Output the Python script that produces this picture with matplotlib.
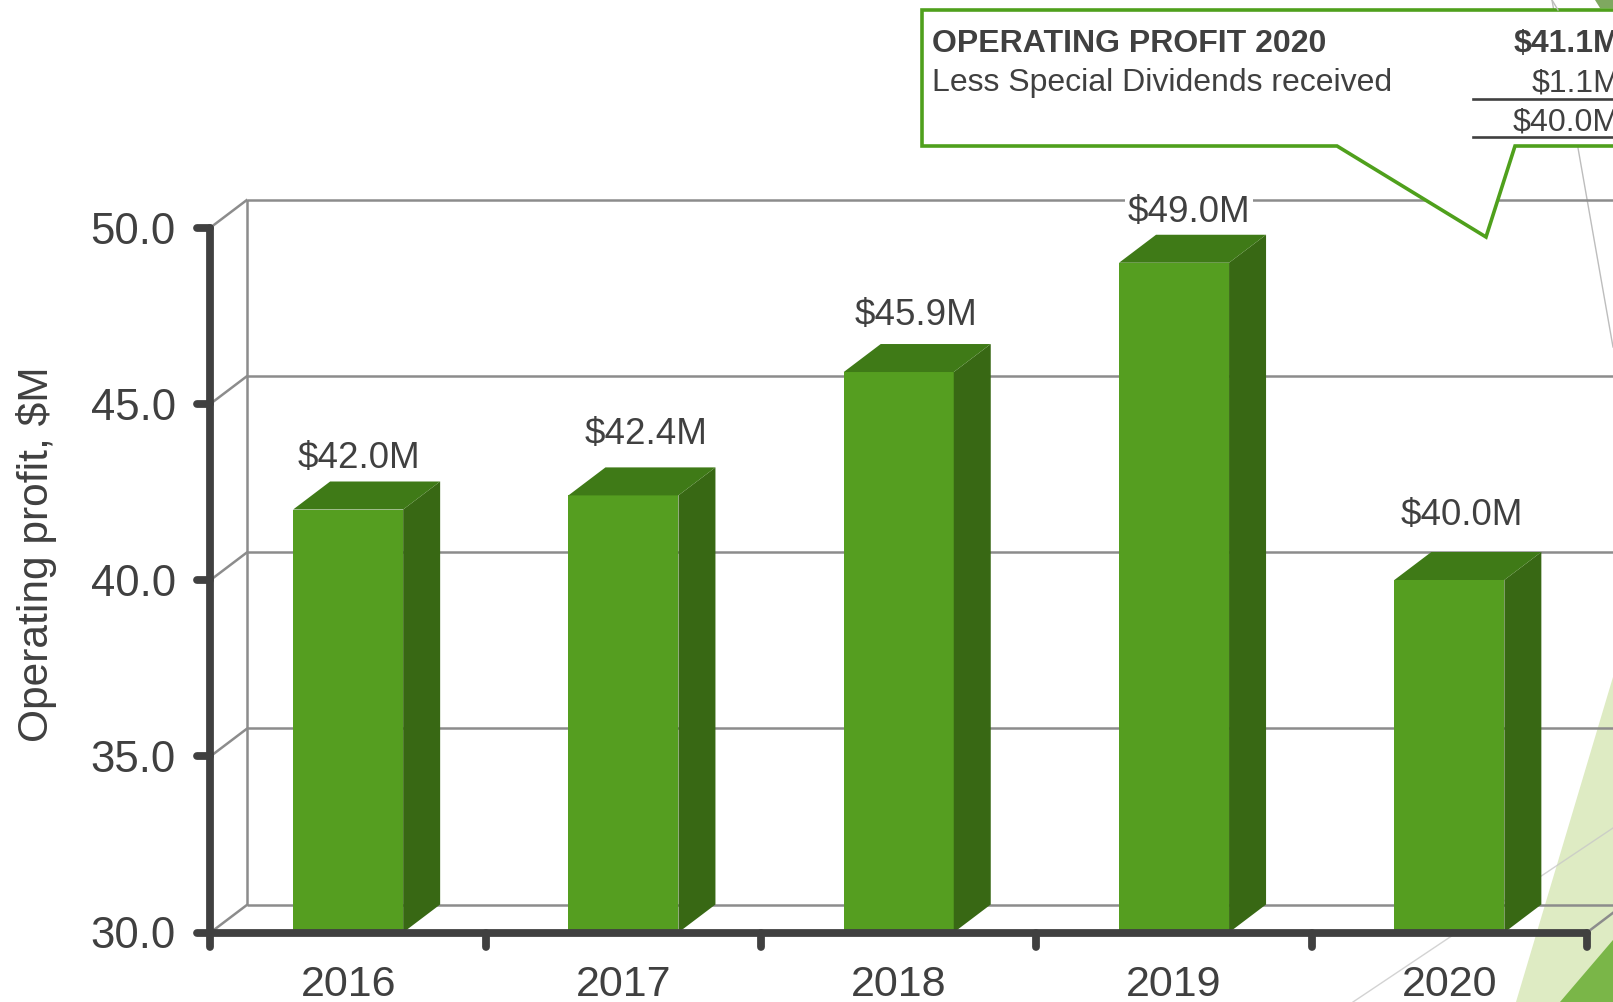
import matplotlib
matplotlib.use("Agg")
import matplotlib.pyplot as plt
from matplotlib.patches import Polygon

plt.rcParams['font.family'] = ['Liberation Sans', 'DejaVu Sans']

# ---- data ----
years = ['2016', '2017', '2018', '2019', '2020']
profit = [42.0, 42.4, 45.9, 49.0, 40.0]
value_labels = ['$42.0M', '$42.4M', '$45.9M', '$49.0M', '$40.0M']
y_ticks = [30, 35, 40, 45, 50]
y_tick_labels = ['30.0', '35.0', '40.0', '45.0', '50.0']
y_title = 'Operating profit, $M'
note_rows = ['OPERATING PROFIT 2020', 'Less Special Dividends received']
note_values = ['$41.1M', '$1.1M', '$40.0M']

# ---- style ----
W, H = 1613, 1002
TXT = '#404040'
FRONT, SIDE, TOP = '#559e20', '#386814', '#3f7a17'
GRID = '#8c8c8c'
AX_L, AX_R, AX_T, AX_B = 210.5, 1587, 227.5, 932.5
DX_PX, DY_PX = 37, 28

fig = plt.figure(figsize=(W / 100, H / 100), dpi=100, facecolor='white')


def overlay(z):
    a = fig.add_axes([0, 0, 1, 1], zorder=z)
    a.set_xlim(0, W)
    a.set_ylim(H, 0)
    a.axis('off')
    a.patch.set_alpha(0)
    return a


# background slide decoration
bg = overlay(0)
bg.add_patch(Polygon([(1516, 1002), (1613, 677), (1613, 1002)], fc='#deebc3', ec='none'))
bg.add_patch(Polygon([(1560, 1002), (1613, 940), (1613, 1002)], fc='#7ab648', ec='none'))
bg.add_patch(Polygon([(1595, 0), (1613, 0), (1613, 8), (1600, 8)], fc='#7fa860', ec='none'))
bg.plot([1552, 1613], [0, 347], color='#bdbdbd', lw=1.0)
bg.plot([1353, 1613], [1002, 828], color='#c8c8c8', lw=1.0, alpha=.8)

# chart axes
ax = fig.add_axes([AX_L / W, 1 - AX_B / H, (AX_R - AX_L) / W, (AX_B - AX_T) / H], zorder=1)
ax.patch.set_alpha(0)
ax.set_xlim(-0.5, 4.5)
ax.set_ylim(30, 50)
for s in ax.spines.values():
    s.set_visible(False)

step_px = (AX_R - AX_L) / 5
unit_px = (AX_B - AX_T) / 20
dx, dy = DX_PX / step_px, DY_PX / unit_px
bar_w = 110 / step_px

# walls
gl = dict(color=GRID, lw=1.8, zorder=1, clip_on=False, solid_capstyle='butt')
for t in y_ticks:
    ax.plot([-0.5, -0.5 + dx], [t, t + dy], **gl)
    ax.plot([-0.5 + dx, 4.5 + dx], [t + dy, t + dy], **gl)
ax.plot([-0.5 + dx, -0.5 + dx], [30 + dy, 50 + dy], **gl)
ax.plot([4.5, 4.5 + dx], [30, 30 + dy], **gl)

# bars
xs = list(range(len(years)))
ax.bar(xs, [v - 30 for v in profit], bottom=30, width=bar_w, color=FRONT, zorder=3, clip_on=False)
for x, v in zip(xs, profit):
    l, r = x - bar_w / 2, x + bar_w / 2
    ax.add_patch(Polygon([(r, 30), (r + dx, 30 + dy), (r + dx, v + dy), (r, v)],
                         fc=SIDE, ec='none', zorder=3, clip_on=False))
    ax.add_patch(Polygon([(l, v), (l + dx, v + dy), (r + dx, v + dy), (r, v)],
                         fc=TOP, ec='none', zorder=3, clip_on=False))

# value labels (pixel offsets from the bar's top centre)
off_x = [10.5, 22.5, 17.5, 15, 12]
off_y = [41, 51, 47, 41, 55]
for x, v, s, ox, oy in zip(xs, profit, value_labels, off_x, off_y):
    ax.annotate(s, (x, v), xytext=(ox * .72, oy * .72), textcoords='offset points',
                ha='center', va='baseline', fontsize=26.5, color=TXT, zorder=4,
                bbox=dict(fc='white', ec='none', pad=2))

# axes lines and ticks
ax_l = dict(color=TXT, lw=5.6, solid_capstyle='round', zorder=5, clip_on=False)
ax.plot([-0.5, -0.5], [30, 50], **ax_l)
ax.plot([-0.5, 4.5], [30, 30], **ax_l)
for t in y_ticks:
    ax.plot([-0.5 - 13 / step_px, -0.5], [t, t], **ax_l)
for b in [i - 0.5 for i in range(6)]:
    ax.plot([b, b], [30, 30 - 14 / unit_px], **ax_l)

ax.set_xticks(xs, years)
ax.set_yticks(y_ticks, y_tick_labels)
ax.tick_params(axis='x', length=0, pad=23.5, labelsize=31, labelcolor=TXT)
ax.tick_params(axis='y', length=0, pad=25, labelsize=31.5, labelcolor=TXT)
for lab in ax.get_yticklabels():
    lab.set_verticalalignment('center_baseline')
fig.text(37 / W, 1 - 554 / H, y_title, rotation=90, ha='center', va='center',
         fontsize=30.6, color=TXT)

# callout
fg = overlay(2)
fg.add_patch(Polygon([(922, 10), (1620, 10), (1620, 146), (1515, 146), (1486, 237),
                      (1337, 146), (922, 146)], closed=True, fc='white', ec='#4fa01c', lw=2.6,
                     joinstyle='miter', clip_on=True))
fg.plot([1552, 1558], [0, 10], color='#bdbdbd', lw=1.0)
fg.text(932, 52, note_rows[0], fontsize=23, fontweight='bold', color=TXT, va='baseline')
fg.text(932, 91, note_rows[1], fontsize=23, color=TXT, va='baseline')
fg.text(1620, 52, note_values[0], fontsize=23, fontweight='bold', color=TXT, ha='right', va='baseline')
fg.text(1620, 91, note_values[1], fontsize=23, color=TXT, ha='right', va='baseline')
fg.text(1620, 130, note_values[2], fontsize=23.1, color=TXT, ha='right', va='baseline')
fg.plot([1473, 1613], [98.7, 98.7], color=TXT, lw=1.9)
fg.plot([1473, 1613], [137, 137], color=TXT, lw=1.9)
fg.set_xlim(0, W)
fg.set_ylim(H, 0)

fig.savefig('out.png', dpi=100)
